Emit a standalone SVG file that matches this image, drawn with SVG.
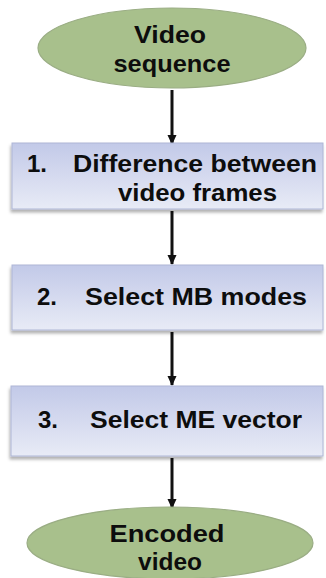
<svg xmlns="http://www.w3.org/2000/svg" width="326" height="578" viewBox="0 0 326 578">
<defs>
<linearGradient id="boxg" x1="0" y1="0" x2="0" y2="1">
<stop offset="0" stop-color="#c2c9e8"/>
<stop offset="1" stop-color="#e8ebf6"/>
</linearGradient>
<filter id="sh" x="-5%" y="-10%" width="110%" height="125%">
<feDropShadow dx="-1" dy="3" stdDeviation="1.5" flood-color="#000" flood-opacity="0.3"/>
</filter>
<marker id="ah" viewBox="0 0 10 10" refX="9" refY="5" markerWidth="10" markerHeight="10" markerUnits="userSpaceOnUse" orient="auto">
<path d="M0,0.5 L10,5 L0,9.5 Z" fill="#111"/>
</marker>
</defs>
<style>
.ell{fill:#a8c08c;stroke:#9aad84;stroke-width:1.2}
.box{fill:url(#boxg);stroke:#aeb6d6;stroke-width:1;filter:url(#sh)}
.t{font-family:"Liberation Sans",Arial,sans-serif;font-weight:bold;font-size:24px;fill:#0d0d0d}
.c{text-anchor:middle}
.arr{stroke:#111;stroke-width:3;fill:none;marker-end:url(#ah)}
</style>
<rect width="326" height="578" fill="#fff"/>
<g id="connectors">
<line class="arr" x1="172" y1="90" x2="172" y2="144"/>
<line class="arr" x1="172" y1="211" x2="172" y2="264"/>
<line class="arr" x1="172" y1="332" x2="172" y2="385"/>
<line class="arr" x1="172" y1="458" x2="172" y2="508"/>
</g>
<g id="start">
<ellipse class="ell" cx="172" cy="48" rx="134" ry="40"/>
<text class="t c" x="170" y="43" textLength="72" lengthAdjust="spacingAndGlyphs">Video</text>
<text class="t c" x="172" y="72" textLength="117" lengthAdjust="spacingAndGlyphs">sequence</text>
</g>
<g id="step1">
<rect class="box" x="12" y="143" width="311" height="66"/>
<text class="t" x="27" y="172">1.</text>
<text class="t" x="73" y="172" textLength="244" lengthAdjust="spacingAndGlyphs">Difference between</text>
<text class="t" x="118" y="201" textLength="159" lengthAdjust="spacingAndGlyphs">video frames</text>
</g>
<g id="step2">
<rect class="box" x="12" y="265" width="311" height="65"/>
<text class="t" x="37" y="305">2.</text>
<text class="t" x="85" y="305" textLength="222" lengthAdjust="spacingAndGlyphs">Select MB modes</text>
</g>
<g id="step3">
<rect class="box" x="11" y="386" width="312" height="70"/>
<text class="t" x="38" y="428">3.</text>
<text class="t" x="90" y="428" textLength="212" lengthAdjust="spacingAndGlyphs">Select ME vector</text>
</g>
<g id="end">
<ellipse class="ell" cx="170" cy="543" rx="143" ry="36"/>
<text class="t c" x="167" y="542" textLength="115" lengthAdjust="spacingAndGlyphs">Encoded</text>
<text class="t c" x="170" y="570" textLength="64" lengthAdjust="spacingAndGlyphs">video</text>
</g>
</svg>
